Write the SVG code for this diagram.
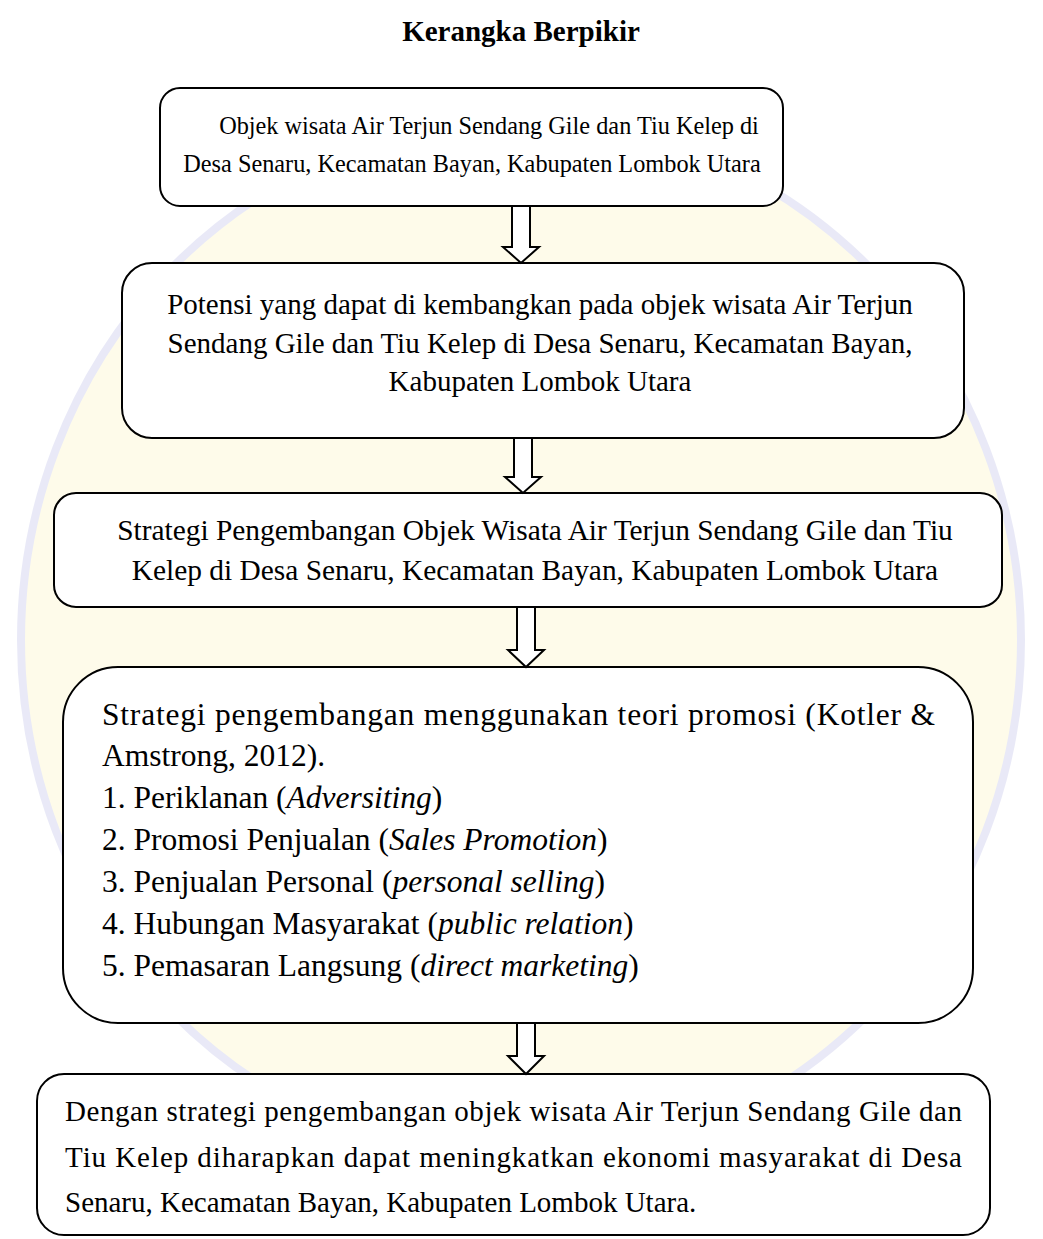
<svg xmlns="http://www.w3.org/2000/svg" width="1043" height="1239" viewBox="0 0 1043 1239">
<style>
.box{fill:#fff;stroke:#000;stroke-width:2}
.arr{fill:#fff;stroke:#000;stroke-width:2;stroke-linejoin:miter}
text{font-family:"Liberation Serif","Times New Roman",serif;fill:#000}
.t24{font-size:24.3px}
.t29{font-size:29px}
.t29b{font-size:29.4px}
.t31{font-size:31.5px}
.i{font-style:italic}
</style>
<rect x="0" y="0" width="1043" height="1239" fill="#fff"/>
<g id="watermark" opacity="0.45">
<ellipse cx="521" cy="640" rx="500" ry="520" fill="#fdf8d2" stroke="#cfd0ee" stroke-width="8"/>
</g>
<text x="521" y="41" text-anchor="middle" font-size="29" font-weight="bold">Kerangka Berpikir</text>
<g id="node1">
<rect class="box" x="160" y="88" width="623" height="118" rx="20"/>
<text class="t24" x="489" y="134" text-anchor="middle">Objek wisata Air Terjun Sendang Gile dan Tiu Kelep di</text>
<text class="t24" x="472" y="172" text-anchor="middle">Desa Senaru, Kecamatan Bayan, Kabupaten Lombok Utara</text>
</g>
<g id="node2">
<rect class="box" x="122" y="263" width="842" height="175" rx="30"/>
<text class="t29" x="540" y="314" text-anchor="middle">Potensi yang dapat di kembangkan pada objek wisata Air Terjun</text>
<text class="t29" x="540" y="353" text-anchor="middle">Sendang Gile dan Tiu Kelep di Desa Senaru, Kecamatan Bayan,</text>
<text class="t29" x="540" y="391" text-anchor="middle">Kabupaten Lombok Utara</text>
</g>
<g id="node3">
<rect class="box" x="54" y="493" width="948" height="114" rx="22"/>
<text class="t29b" x="535" y="540" text-anchor="middle">Strategi Pengembangan Objek Wisata Air Terjun Sendang Gile dan Tiu</text>
<text class="t29b" x="535" y="580" text-anchor="middle">Kelep di Desa Senaru, Kecamatan Bayan, Kabupaten Lombok Utara</text>
</g>
<g id="node4">
<rect class="box" x="63" y="667" width="910" height="356" rx="55"/>
<text class="t31" x="102" y="725" textLength="833" lengthAdjust="spacing">Strategi pengembangan menggunakan teori promosi (Kotler &amp;</text>
<text class="t31" x="102" y="766">Amstrong, 2012).</text>
<text class="t31" x="102" y="808">1. Periklanan (<tspan class="i">Adversiting</tspan>)</text>
<text class="t31" x="102" y="850">2. Promosi Penjualan (<tspan class="i">Sales Promotion</tspan>)</text>
<text class="t31" x="102" y="892">3. Penjualan Personal (<tspan class="i">personal selling</tspan>)</text>
<text class="t31" x="102" y="934">4. Hubungan Masyarakat (<tspan class="i">public relation</tspan>)</text>
<text class="t31" x="102" y="976">5. Pemasaran Langsung (<tspan class="i">direct marketing</tspan>)</text>
</g>
<g id="node5">
<rect class="box" x="37" y="1074" width="953" height="161" rx="27"/>
<text class="t29" x="65" y="1121" textLength="897" lengthAdjust="spacing">Dengan strategi pengembangan objek wisata Air Terjun Sendang Gile dan</text>
<text class="t29" x="65" y="1167" textLength="897" lengthAdjust="spacing">Tiu Kelep diharapkan dapat meningkatkan ekonomi masyarakat di Desa</text>
<text class="t29" x="65" y="1212">Senaru, Kecamatan Bayan, Kabupaten Lombok Utara.</text>
</g>
<g id="connectors">
<path class="arr" d="M512,206 L530,206 L530,247 L539,247 L521,263 L503,247 L512,247 Z"/>
<path class="arr" d="M514,438 L532,438 L532,477 L541,477 L523,493 L505,477 L514,477 Z"/>
<path class="arr" d="M517,607 L535,607 L535,650 L544,650 L526,667 L508,650 L517,650 Z"/>
<path class="arr" d="M517,1023 L535,1023 L535,1056 L544,1056 L526,1074 L508,1056 L517,1056 Z"/>
</g>
</svg>
